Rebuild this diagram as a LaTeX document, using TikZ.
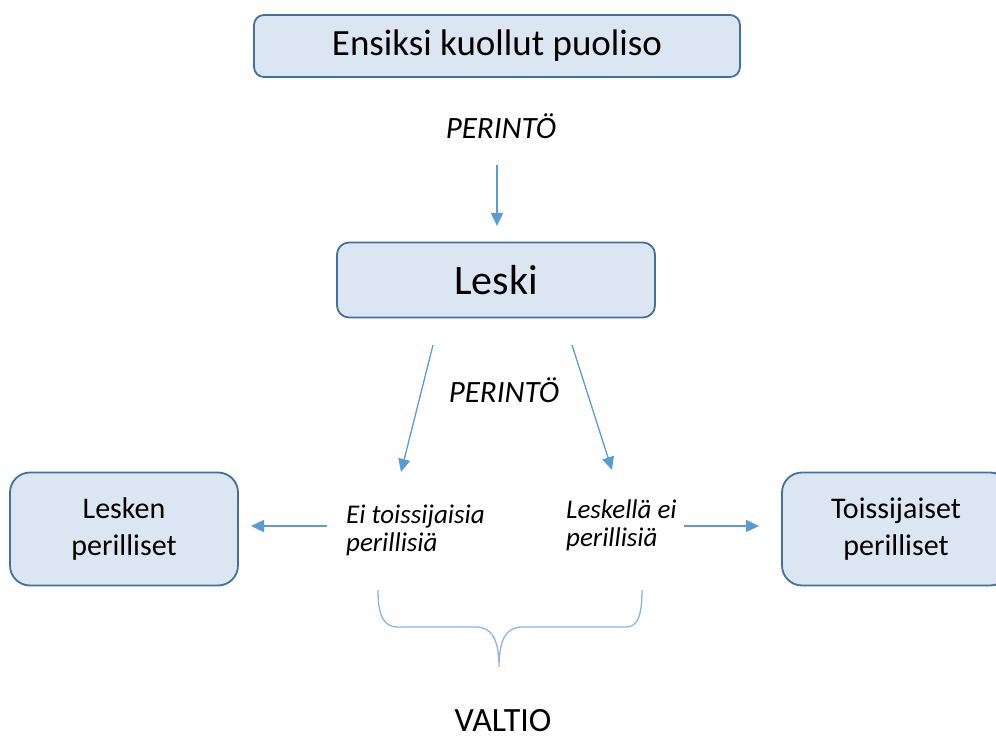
\documentclass[tikz,border=0pt]{standalone}
\usepackage{fontspec}
\setmainfont{Carlito}
\usetikzlibrary{arrows.meta}
\definecolor{boxfill}{HTML}{DCE6F2}
\definecolor{boxline}{HTML}{41719C}
\definecolor{arrowblue}{HTML}{5B9BD5}
\definecolor{bracecol}{HTML}{8DB4E2}
\begin{document}
\begin{tikzpicture}[x=1pt,y=-1pt,
  box/.style={draw=boxline,fill=boxfill,line width=1.8pt,inner sep=0pt,align=center},
  flow/.style={draw=arrowblue,line width=1.3pt,-{Triangle[length=13pt,width=12pt]}},
  label/.style={font=\fontsize{31}{36}\selectfont\itshape},
  note/.style={font=\fontsize{27}{28}\selectfont\itshape,align=left,inner sep=0pt}]
\useasboundingbox (0,0) rectangle (996,738);

% boxes
\node[box,rounded corners=10pt,minimum width=486pt,minimum height=62pt,
  font=\fontsize{37}{40}\selectfont] (first) at (497,46) {Ensiksi kuollut puoliso};
\node[box,rounded corners=12pt,minimum width=318pt,minimum height=75pt,
  font=\fontsize{42}{46}\selectfont] (leski) at (496,280) {Leski};
\node[box,rounded corners=20pt,minimum width=228pt,minimum height=113pt,
  font=\fontsize{30}{37}\selectfont] (lesken) at (124,529) {Lesken\\perilliset};
\node[box,rounded corners=20pt,minimum width=228pt,minimum height=113pt,
  font=\fontsize{30}{37}\selectfont] (toiss) at (896,529) {Toissijaiset\\perilliset};

% labels
\node[label] (per1) at (501,126) {PERINTÖ};
\node[label] (per2) at (504,390) {PERINTÖ};
\node[note,anchor=north west] (eitoiss) at (346,505) {Ei toissijaisia\\perillisiä};
\node[note,anchor=north west] (eiper) at (566,500) {Leskellä ei\\perillisiä};
\node[font=\fontsize{34}{36}\selectfont,inner sep=0pt,anchor=base] (valtio) at (503,731) {VALTIO};

% connector end points
\coordinate (a1s) at (497,165);
\coordinate (a1e) at (497,226);
\coordinate (dls) at (433,345);
\coordinate (dle) at (401,472);
\coordinate (drs) at (572,345);
\coordinate (dre) at (612,470);
\coordinate (ls) at (327,526);
\coordinate (le) at (251,526);
\coordinate (rs) at (684,526);
\coordinate (re) at (759,526);

\draw[flow] (a1s) -- (a1e);
\draw[flow] (dls) -- (dle);
\draw[flow] (drs) -- (dre);
\draw[flow] (ls) -- (le);
\draw[flow] (rs) -- (re);

% brace gathering both cases
\draw[bracecol,line width=1.3pt]
  (378,590) .. controls (378,615) and (383,627) .. (398,627)
  -- (476,627) .. controls (492,627) and (499,640) .. (499,667)
  .. controls (499,640) and (506,627) .. (522,627)
  -- (626,627) .. controls (638,627) and (642,615) .. (642,590);
\end{tikzpicture}
\end{document}
